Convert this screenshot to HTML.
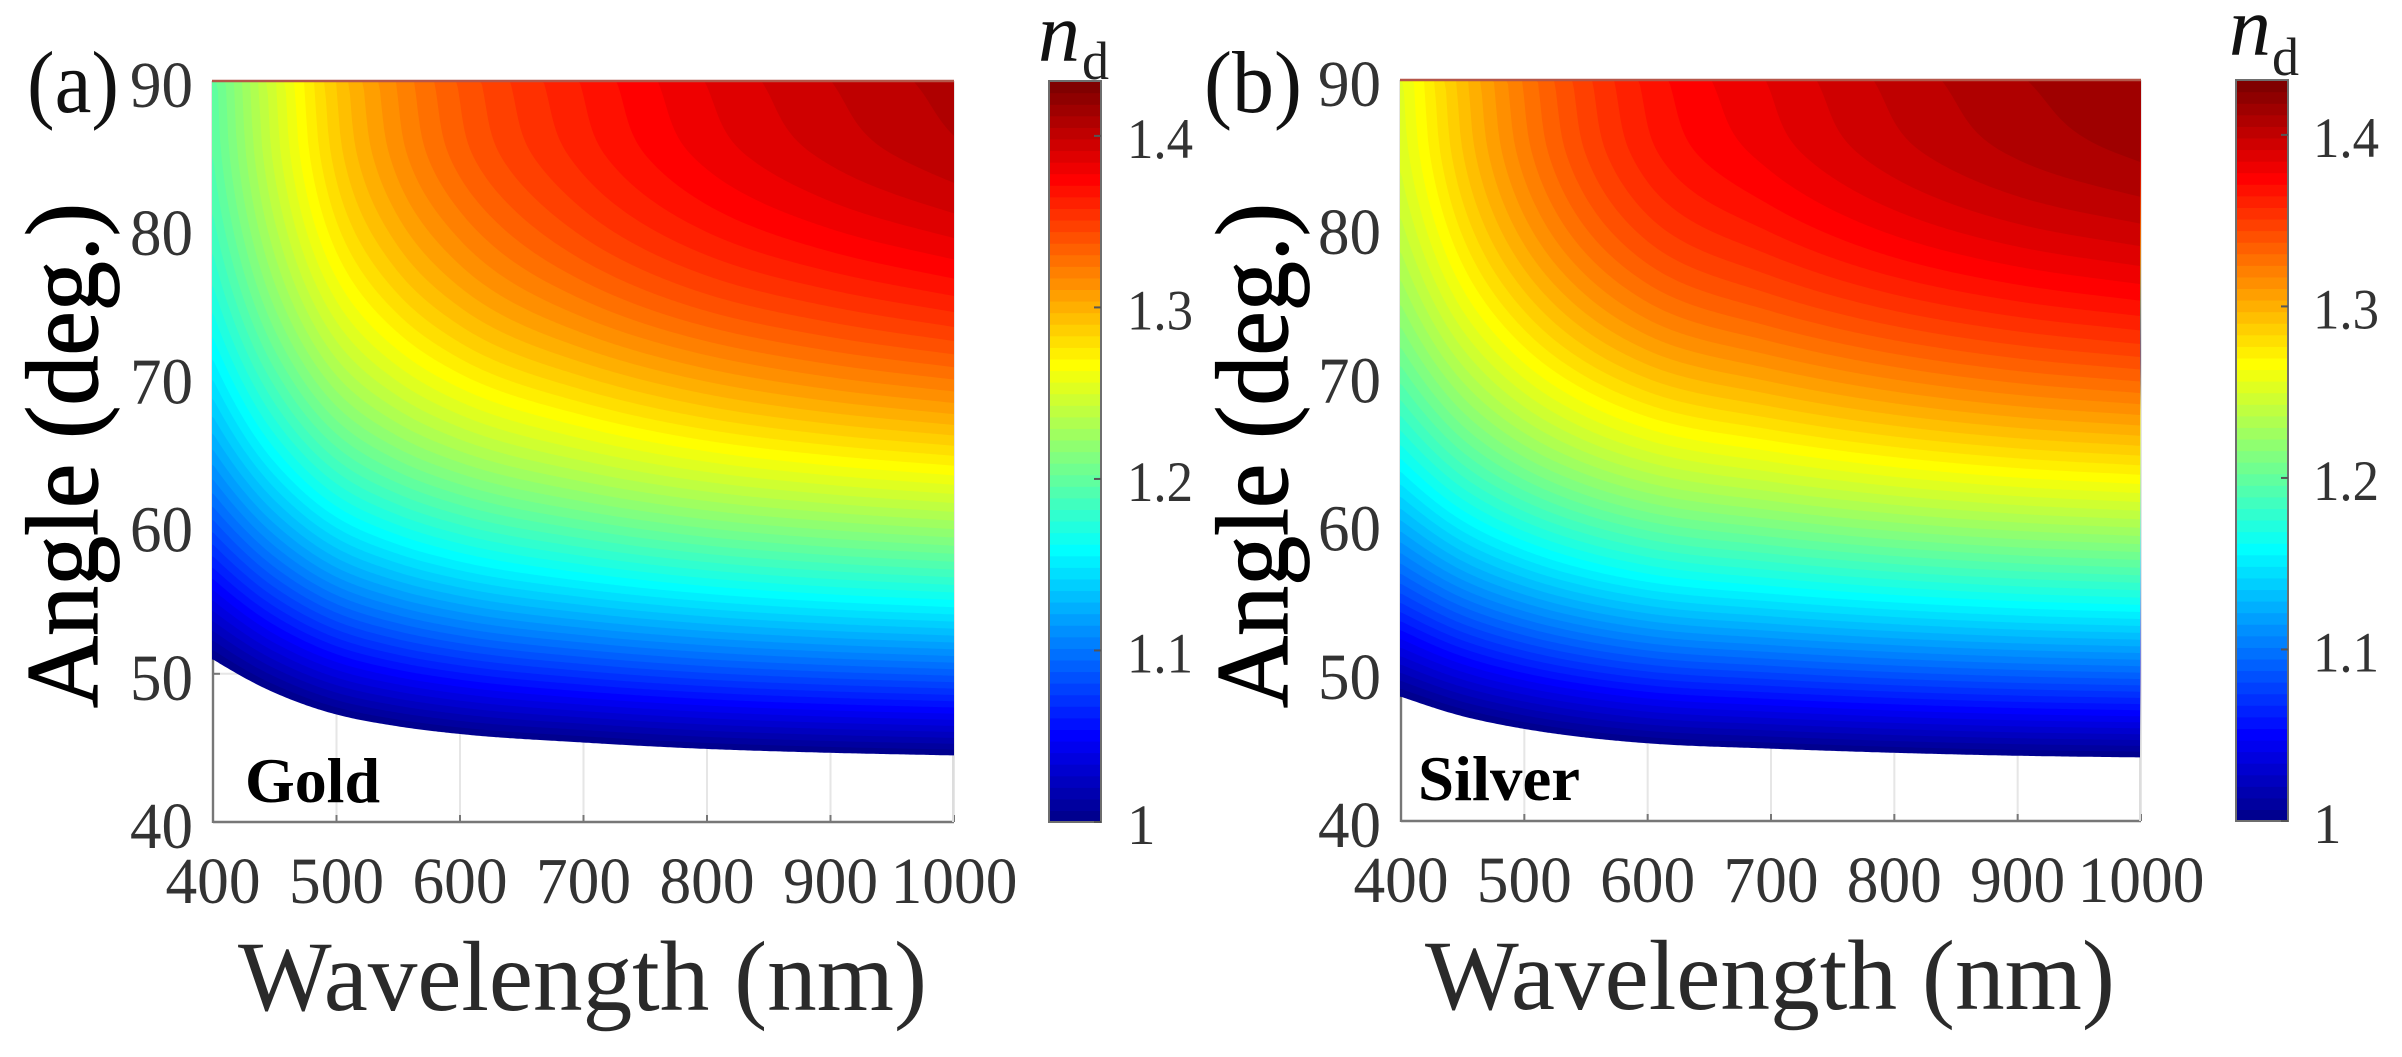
<!DOCTYPE html>
<html lang="en">
<head>
<meta charset="utf-8">
<title>Refractive index maps for gold and silver</title>
<style>
html,body{margin:0;padding:0;background:#fff;}
svg{display:block;}
text{font-family:"Liberation Serif",serif;}
</style>
</head>
<body>
<svg id="figure" xmlns="http://www.w3.org/2000/svg" width="2402" height="1057" viewBox="0 0 2402 1057">
  <rect x="0" y="0" width="2402" height="1057" fill="#fff"/>
  <g id="panel-a"></g>
  <g id="panel-b"></g>

  <text x="27" y="112" font-size="88" textLength="92" lengthAdjust="spacingAndGlyphs" fill="#111">(a)</text>
  <text x="1204" y="112" font-size="88" textLength="98" lengthAdjust="spacingAndGlyphs" fill="#111">(b)</text>

  <text transform="translate(97,708) rotate(-90)" font-size="103" textLength="505" lengthAdjust="spacingAndGlyphs" fill="#000" stroke="#000" stroke-width="1.2">Angle (deg.)</text>
  <text transform="translate(1287,708) rotate(-90)" font-size="103" textLength="505" lengthAdjust="spacingAndGlyphs" fill="#000" stroke="#000" stroke-width="1.2">Angle (deg.)</text>

  <text x="238" y="1010" font-size="100" textLength="689" lengthAdjust="spacingAndGlyphs" fill="#2a2a2a">Wavelength (nm)</text>
  <text x="1425" y="1009" font-size="100" textLength="690" lengthAdjust="spacingAndGlyphs" fill="#2a2a2a">Wavelength (nm)</text>

  <text x="245" y="802" font-size="63" font-weight="bold" textLength="135" lengthAdjust="spacingAndGlyphs" fill="#000">Gold</text>
  <text x="1418" y="800" font-size="63" font-weight="bold" textLength="162" lengthAdjust="spacingAndGlyphs" fill="#000">Silver</text>

  <g>
    <text x="1038" y="61" font-size="84" font-style="italic" fill="#111">n</text>
    <text x="1082" y="79" font-size="54" fill="#222">d</text>
  </g>
  <g>
    <text x="2229" y="55" font-size="84" font-style="italic" fill="#111">n</text>
    <text x="2272" y="75" font-size="54" fill="#222">d</text>
  </g>
</svg>
<script>
/* ---- data ---- */
const wavelengths = [400, 450, 500, 550, 600, 700, 800, 900, 1000];
const angles = [44, 46, 48, 50, 52, 55, 60, 65, 70, 75, 80, 85, 90];
const goldIndex = [
  [0.9159, 0.9365, 0.9527, 0.9627, 0.9695, 0.9782, 0.9845, 0.9887, 0.9916],
  [0.9418, 0.9644, 0.9822, 0.9933, 1.0010, 1.0102, 1.0177, 1.0224, 1.0257],
  [0.9663, 0.9909, 1.0104, 1.0225, 1.0310, 1.0418, 1.0495, 1.0547, 1.0584],
  [0.9893, 1.0159, 1.0371, 1.0504, 1.0596, 1.0715, 1.0801, 1.0857, 1.0898],
  [1.0110, 1.0396, 1.0624, 1.0768, 1.0869, 1.0998, 1.1091, 1.1154, 1.1199],
  [1.0410, 1.0725, 1.0978, 1.1138, 1.1251, 1.1396, 1.1501, 1.1572, 1.1622],
  [1.0846, 1.1205, 1.1499, 1.1684, 1.1816, 1.1987, 1.2113, 1.2195, 1.2256],
  [1.1206, 1.1606, 1.1934, 1.2144, 1.2293, 1.2489, 1.2632, 1.2727, 1.2797],
  [1.1493, 1.1926, 1.2287, 1.2517, 1.2683, 1.2899, 1.3060, 1.3171, 1.3252],
  [1.1712, 1.2174, 1.2558, 1.2806, 1.2984, 1.3228, 1.3407, 1.3524, 1.3615],
  [1.1866, 1.2348, 1.2752, 1.3011, 1.3199, 1.3464, 1.3653, 1.3779, 1.3873],
  [1.1958, 1.2452, 1.2866, 1.3139, 1.3340, 1.3606, 1.3801, 1.3930, 1.4029],
  [1.1988, 1.2487, 1.2905, 1.3182, 1.3385, 1.3653, 1.3851, 1.3982, 1.4082]
];
const silverIndex = [
  [0.9403, 0.9551, 0.9659, 0.9740, 0.9797, 0.9853, 0.9898, 0.9931, 0.9950],
  [0.9684, 0.9848, 0.9968, 1.0058, 1.0122, 1.0185, 1.0236, 1.0273, 1.0295],
  [0.9950, 1.0129, 1.0262, 1.0361, 1.0433, 1.0504, 1.0560, 1.0601, 1.0626],
  [1.0203, 1.0398, 1.0543, 1.0652, 1.0730, 1.0808, 1.0871, 1.0915, 1.0944],
  [1.0441, 1.0652, 1.0809, 1.0928, 1.1013, 1.1099, 1.1167, 1.1217, 1.1248],
  [1.0773, 1.1007, 1.1182, 1.1315, 1.1411, 1.1509, 1.1586, 1.1642, 1.1678],
  [1.1257, 1.1529, 1.1734, 1.1889, 1.2002, 1.2119, 1.2211, 1.2278, 1.2321],
  [1.1661, 1.1966, 1.2198, 1.2374, 1.2503, 1.2638, 1.2744, 1.2821, 1.2871],
  [1.1986, 1.2318, 1.2575, 1.2769, 1.2913, 1.3066, 1.3189, 1.3278, 1.3337],
  [1.2235, 1.2592, 1.2866, 1.3080, 1.3240, 1.3411, 1.3546, 1.3641, 1.3706],
  [1.2411, 1.2785, 1.3078, 1.3308, 1.3478, 1.3657, 1.3801, 1.3903, 1.3970],
  [1.2516, 1.2900, 1.3206, 1.3444, 1.3620, 1.3806, 1.3953, 1.4058, 1.4130],
  [1.2551, 1.2939, 1.3250, 1.3489, 1.3667, 1.3855, 1.4005, 1.4111, 1.4184]
];
const xTickValues = [400, 500, 600, 700, 800, 900, 1000];
const yTickValues = [40, 50, 60, 70, 80, 90];
const barTickValues = [1, 1.1, 1.2, 1.3, 1.4];
const barTickLabels = ["1", "1.1", "1.2", "1.3", "1.4"];
const xDomain = [400, 1000];
const yDomain = [40, 90];
const colorDomain = [1, 1.432];
const levelCount = 64;

const SVG_NS = "http://www.w3.org/2000/svg";

function jet(t) {
  const c = function (v) { return Math.round(255 * Math.max(0, Math.min(1, v))); };
  return "rgb(" + c(1.5 - Math.abs(4 * t - 3)) + "," + c(1.5 - Math.abs(4 * t - 2)) + "," + c(1.5 - Math.abs(4 * t - 1)) + ")";
}

function smoothAt(xs, ys, x) {
  let i = 0;
  while (i < xs.length - 2 && x > xs[i + 1]) i++;
  const slope = function (k) {
    if (k === 0) return (ys[1] - ys[0]) / (xs[1] - xs[0]);
    if (k === xs.length - 1) return (ys[k] - ys[k - 1]) / (xs[k] - xs[k - 1]);
    const h0 = xs[k] - xs[k - 1], h1 = xs[k + 1] - xs[k];
    return ((ys[k + 1] - ys[k]) / h1 * h0 + (ys[k] - ys[k - 1]) / h0 * h1) / (h0 + h1);
  };
  const h = xs[i + 1] - xs[i];
  const t = (x - xs[i]) / h;
  const t2 = t * t, t3 = t2 * t;
  return (2 * t3 - 3 * t2 + 1) * ys[i] + (t3 - 2 * t2 + t) * h * slope(i) +
         (-2 * t3 + 3 * t2) * ys[i + 1] + (t3 - t2) * h * slope(i + 1);
}

function make(tag, parent, props) {
  const el = document.createElementNS(SVG_NS, tag);
  for (const k in props) el.setAttribute(k, props[k]);
  parent.appendChild(el);
  return el;
}

function drawPanel(root, matrix, box, metal) {
  const xScale = function (v) { return box.left + (v - xDomain[0]) / (xDomain[1] - xDomain[0]) * (box.right - box.left); };
  const yScale = function (v) { return box.bottom - (v - yDomain[0]) / (yDomain[1] - yDomain[0]) * (box.bottom - box.top); };
  const barScale = function (v) { return box.bottom - (v - colorDomain[0]) / (colorDomain[1] - colorDomain[0]) * (box.bottom - box.top); };
  const levelStep = (colorDomain[1] - colorDomain[0]) / levelCount;

  /* grid lines and small ticks */
  xTickValues.forEach(function (v) {
    const grid = make("line", root, { x1: xScale(v), x2: xScale(v), y1: box.top, y2: box.bottom, stroke: "#e6e6e6", "stroke-width": 2 });
    
    
    const tick = make("line", root, { x1: xScale(v), x2: xScale(v), y1: box.bottom - 7, y2: box.bottom, stroke: "#777", "stroke-width": 2 });
    
    
  });
  yTickValues.forEach(function (v) {
    const grid = make("line", root, { x1: box.left, x2: box.right, y1: yScale(v), y2: yScale(v), stroke: "#e6e6e6", "stroke-width": 2 });
    
    
    const tick = make("line", root, { x1: box.left, x2: box.left + 7, y1: yScale(v), y2: yScale(v), stroke: "#777", "stroke-width": 2 });
    
    
  });

  /* axis frame */
  const leftAxis = make("line", root, { x1: box.left, x2: box.left, y1: box.top, y2: box.bottom + 1, stroke: "#777", "stroke-width": 2.4 });
  
  
  const bottomAxis = make("line", root, { x1: box.left, x2: box.right, y1: box.bottom, y2: box.bottom, stroke: "#777", "stroke-width": 2.4 });
  
  
  const rightAxis = make("line", root, { x1: box.right - 1, x2: box.right - 1, y1: box.top, y2: box.bottom, stroke: "#ddd", "stroke-width": 2 });
  
  

  /* filled contour bands built from the index matrix */
  const columns = [];
  for (let px = box.left - 1; px <= box.right; px += 2) {
    const lambda = Math.max(xDomain[0], Math.min(xDomain[1], xDomain[0] + (px - box.left) / (box.right - box.left) * (xDomain[1] - xDomain[0])));
    const atAngles = matrix.map(function (row) { return smoothAt(wavelengths, row, lambda); });
    const samples = [];
    for (let a = angles[0]; a <= angles[angles.length - 1] + 1e-9; a += 0.2) {
      samples.push({ a: a, n: smoothAt(angles, atAngles, Math.min(a, angles[angles.length - 1])) });
    }
    columns.push({ px: px, samples: samples });
  }
  const field = make("g", root, {});
  
  
  for (let i = 0; i < levelCount; i++) {
    const level = colorDomain[0] + i * levelStep;
    const pts = [];
    columns.forEach(function (col) {
      const s = col.samples;
      let y = box.top;
      if (s[0].n >= level) {
        y = yScale(s[0].a);
      } else {
        for (let k = 1; k < s.length; k++) {
          if (s[k].n >= level) {
            const f = (level - s[k - 1].n) / (s[k].n - s[k - 1].n);
            y = yScale(s[k - 1].a + f * (s[k].a - s[k - 1].a));
            break;
          }
        }
      }
      pts.push(col.px + "," + y.toFixed(1));
    });
    pts.push((box.right) + "," + box.top);
    pts.push((box.left - 1) + "," + box.top);
    const band = make("polygon", field, { points: pts.join(" "), fill: jet((i + 1) / levelCount) });
    
    
  }

  const topEdge = make("line", root, { x1: box.left - 1, x2: box.right, y1: box.top, y2: box.top, stroke: "#b5574a", "stroke-width": 2.4 });
  
  

  /* tick labels */
  xTickValues.forEach(function (v) {
    const label = String(v);
    const t = make("text", root, { x: xScale(v), y: box.xLabelY, "font-size": 66, "text-anchor": "middle", fill: "#333", textLength: label.length * 31.7, lengthAdjust: "spacingAndGlyphs" });
    
    
    t.textContent = label;
  });
  yTickValues.forEach(function (v) {
    const label = String(v);
    const t = make("text", root, { x: box.left - 20, y: yScale(v) + 26, "font-size": 66, "text-anchor": "end", fill: "#333", textLength: 63, lengthAdjust: "spacingAndGlyphs" });
    
    
    t.textContent = label;
  });

  /* colour bar */
  const bar = make("g", root, {});
  
  
  for (let i = 0; i < levelCount; i++) {
    const lo = colorDomain[0] + i * levelStep;
    const hi = lo + levelStep;
    const cell = make("rect", bar, { x: box.barLeft, width: box.barRight - box.barLeft, y: barScale(hi), height: barScale(lo) - barScale(hi) + 0.6, fill: jet((i + 1) / levelCount) });
    
    
  }
  const barFrame = make("rect", bar, { x: box.barLeft, width: box.barRight - box.barLeft, y: box.top, height: box.bottom - box.top, fill: "none", stroke: "#6e6e6e", "stroke-width": 2 });
  
  
  barTickValues.forEach(function (v, i) {
    const mark = make("line", bar, { x1: box.barRight - 7, x2: box.barRight, y1: barScale(v), y2: barScale(v), stroke: "#555", "stroke-width": 2 });
    
    
    const label = barTickLabels[i];
    const t = make("text", bar, { x: box.barLabelX, y: barScale(v) + 22, "font-size": 57, fill: "#333" });
    if (label.length > 1) {
      t.setAttribute("textLength", 66);
      t.setAttribute("lengthAdjust", "spacingAndGlyphs");
    }
    
    
    t.textContent = label;
  });
}

drawPanel(document.getElementById("panel-a"), goldIndex,
  { left: 213, right: 954, top: 81, bottom: 822, xLabelY: 903, barLeft: 1049, barRight: 1101, barLabelX: 1127 }, "gold");
drawPanel(document.getElementById("panel-b"), silverIndex,
  { left: 1401, right: 2141, top: 80, bottom: 821, xLabelY: 902, barLeft: 2236, barRight: 2288, barLabelX: 2313 }, "silver");
</script>
</body>
</html>
